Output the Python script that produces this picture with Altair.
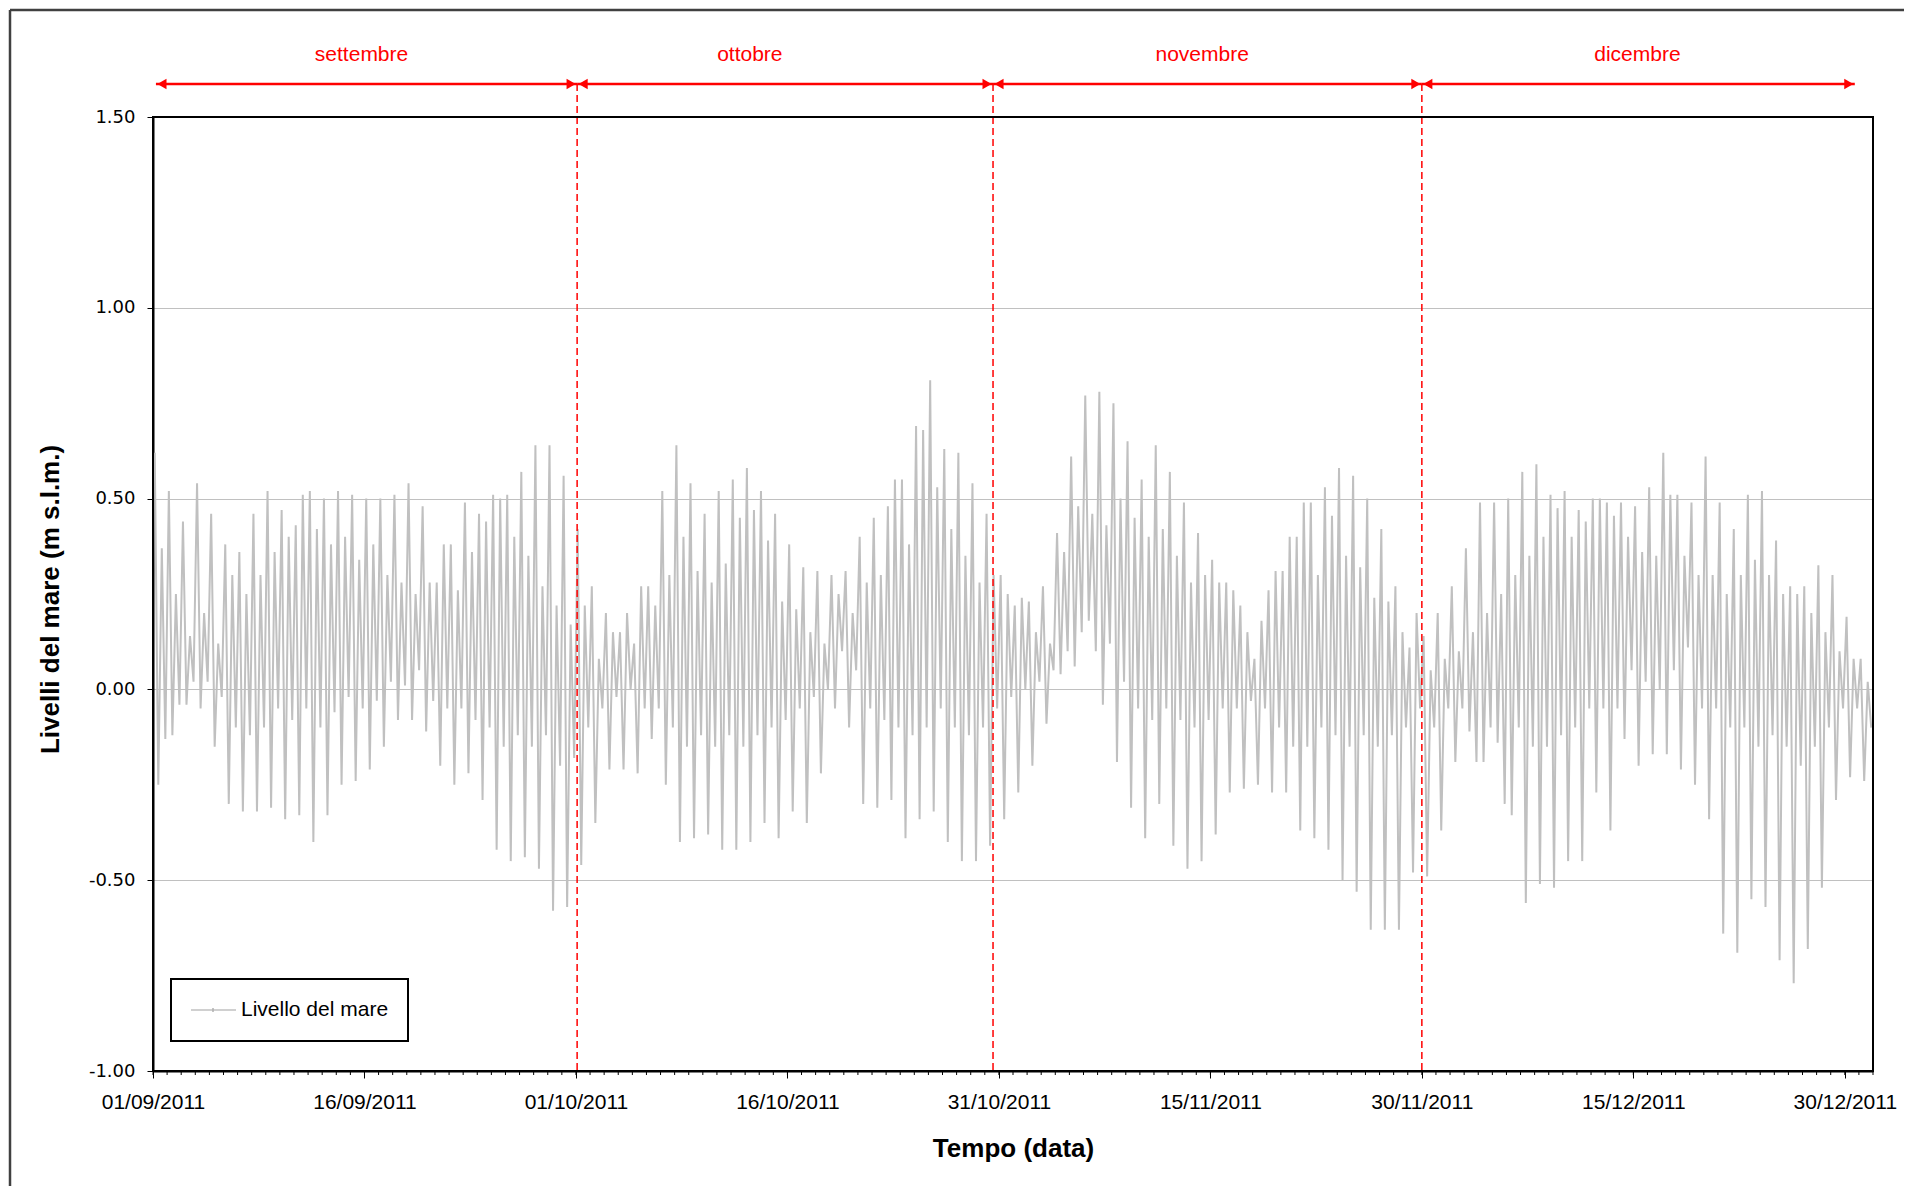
import altair as alt
import pandas as pd

# ---- data (daily tidal extremes, m s.l.m.) ----
# days 0..121 = 01/09/2011 .. 31/12/2011
hi_a = [0.62, 0.52, 0.44, 0.54, 0.46, 0.38, 0.36, 0.46, 0.52, 0.47,
        0.43, 0.52, 0.50, 0.52, 0.51, 0.50, 0.50, 0.51, 0.54, 0.48,
        0.28, 0.38, 0.49, 0.46, 0.51, 0.51, 0.57, 0.64, 0.64, 0.56,
        0.42, 0.27, 0.20, 0.15, 0.12, 0.27, 0.52, 0.64, 0.54, 0.46,
        0.52, 0.55, 0.58, 0.52, 0.46, 0.38, 0.32, 0.31, 0.30, 0.31,
        0.40, 0.45, 0.48, 0.55, 0.69, 0.81, 0.63, 0.62, 0.54, 0.46,
        0.30,
        0.22, 0.23, 0.27, 0.41, 0.61, 0.77, 0.78, 0.75, 0.65, 0.55,
        0.64, 0.57, 0.49, 0.41, 0.34, 0.28, 0.22, 0.08, 0.26, 0.31,
        0.40, 0.49, 0.53, 0.58, 0.56, 0.50, 0.42, 0.27, 0.11,
        0.14, 0.20, 0.27, 0.37, 0.49, 0.49, 0.50, 0.57, 0.59, 0.51,
        0.52, 0.47, 0.50, 0.49, 0.49, 0.48, 0.53, 0.62, 0.51, 0.49,
        0.61, 0.49, 0.42, 0.51, 0.52, 0.39, 0.27, 0.27, 0.325, 0.30,
        0.19, 0.08]
lo_a = [-0.25, -0.12, -0.04, -0.05, -0.15, -0.30, -0.32, -0.32, -0.31, -0.34,
        -0.33, -0.40, -0.33, -0.25, -0.24, -0.21, -0.15, -0.08, -0.08, -0.11,
        -0.20, -0.25, -0.22, -0.29, -0.42, -0.45, -0.44, -0.47, -0.58, -0.57,
        -0.46, -0.35, -0.21, -0.21, -0.22, -0.13, -0.25, -0.40, -0.39, -0.38,
        -0.42, -0.42, -0.40, -0.35, -0.39, -0.32, -0.35, -0.22, -0.05, -0.10,
        -0.30, -0.31, -0.29, -0.39, -0.34, -0.32, -0.40, -0.45, -0.45, -0.41,
        -0.34,
        -0.27, -0.20, -0.09, 0.04, 0.06, 0.18, -0.04, -0.19, -0.31, -0.39,
        -0.30, -0.41, -0.47, -0.45, -0.38, -0.27, -0.26, -0.25, -0.27, -0.27,
        -0.37, -0.39, -0.42, -0.50, -0.53, -0.63, -0.63, -0.63, -0.48,
        -0.49, -0.37, -0.19, -0.11, -0.19, -0.14, -0.33, -0.56, -0.51, -0.52,
        -0.45, -0.45, -0.27, -0.37, -0.13, -0.20, -0.17, -0.17, -0.21, -0.25,
        -0.34, -0.64, -0.69, -0.55, -0.57, -0.71, -0.77, -0.68, -0.52, -0.29,
        -0.23, -0.24]
hi_b = [0.37, 0.25, 0.14, 0.20, 0.12, 0.30, 0.25, 0.30, 0.36, 0.40,
        0.51, 0.42, 0.38, 0.40, 0.34, 0.38, 0.30, 0.28, 0.25, 0.28,
        0.38, 0.26, 0.36, 0.44, 0.50, 0.40, 0.35, 0.27, 0.22, 0.17,
        0.22, 0.08, 0.15, 0.20, 0.27, 0.22, 0.30, 0.40, 0.31, 0.28,
        0.33, 0.45, 0.47, 0.39, 0.23, 0.21, 0.15, 0.12, 0.25, 0.20,
        0.28, 0.30, 0.55, 0.38, 0.68, 0.53, 0.42, 0.35, 0.28, 0.30,
        0.25,
        0.24, 0.15, 0.12, 0.36, 0.48, 0.46, 0.43, 0.50, 0.45, 0.40,
        0.42, 0.35, 0.28, 0.30, 0.28, 0.26, 0.15, 0.18, 0.31, 0.40,
        0.49, 0.30, 0.455, 0.35, 0.32, 0.24, 0.23, 0.15, 0.20,
        0.05, 0.08, 0.10, 0.15, 0.20, 0.25, 0.30, 0.35, 0.40, 0.475,
        0.40, 0.44, 0.50, 0.455, 0.40, 0.36, 0.35, 0.51, 0.35, 0.30,
        0.30, 0.25, 0.30, 0.34, 0.30, 0.25, 0.25, 0.20, 0.15, 0.10,
        0.08, 0.02]
lo_b = [-0.13, -0.04, 0.02, 0.02, -0.02, -0.10, -0.12, -0.10, -0.05, -0.08,
        -0.05, -0.10, -0.06, -0.02, -0.05, -0.03, 0.02, 0.01, 0.05, -0.03,
        -0.05, -0.05, -0.08, -0.10, -0.15, -0.12, -0.15, -0.12, -0.20, -0.18,
        -0.10, -0.05, -0.02, 0.00, -0.05, -0.05, -0.10, -0.15, -0.12, -0.15,
        -0.12, -0.15, -0.12, -0.10, -0.08, -0.05, -0.02, 0.00, 0.10, 0.05,
        -0.05, -0.08, -0.10, -0.12, -0.10, -0.05, -0.10, -0.12, -0.10, -0.05,
        -0.02,
        0.00, 0.02, 0.05, 0.10, 0.15, 0.10, 0.12, 0.02, -0.05, -0.08,
        -0.05, -0.08, -0.10, -0.08, -0.05, -0.05, -0.03, -0.05, -0.10, -0.15,
        -0.15, -0.10, -0.12, -0.15, -0.12, -0.15, -0.12, -0.10, -0.05,
        -0.10, -0.05, -0.05, -0.19, -0.10, -0.30, -0.10, -0.15, -0.15, -0.12,
        -0.10, -0.05, -0.05, -0.05, 0.05, 0.02, 0.00, 0.05, 0.11, -0.05,
        -0.05, -0.10, -0.10, -0.15, -0.12, -0.15, -0.20, -0.15, -0.10, -0.05,
        -0.05, -0.10]

months = ["settembre", "ottobre", "novembre", "dicembre"]
tick_dates = ["2011-09-01", "2011-09-16", "2011-10-01", "2011-10-16", "2011-10-31",
              "2011-11-15", "2011-11-30", "2011-12-15", "2011-12-30"]
series_name = "Livello del mare"

# ---- tables ----
start = pd.Timestamp("2011-09-01")
rows = []
for i in range(len(hi_a)):
    day = start + pd.Timedelta(days=i)
    for hour, val in ((3, hi_a[i]), (9, lo_a[i]), (15, hi_b[i]), (21, lo_b[i])):
        rows.append({"t": (day + pd.Timedelta(hours=hour)).strftime("%Y-%m-%dT%H:%M:%S"),
                     "v": val})
df = pd.DataFrame(rows)

days_df = pd.DataFrame({"t": [(start + pd.Timedelta(days=i)).strftime("%Y-%m-%dT%H:%M:%S")
                              for i in range(123)]})

# separators (as drawn in the reference) and month arrows
sep_times = ["2011-10-01T02:00:00", "2011-10-30T14:00:00", "2011-11-30T00:00:00"]
arrow_start = ["2011-09-01T05:00:00"] + sep_times
arrow_end = sep_times + ["2011-12-30T17:00:00"]
label_pos = ["2011-09-15T19:00:00", "2011-10-13T08:00:00",
             "2011-11-14T10:00:00", "2011-12-15T07:00:00"]
arr = pd.DataFrame({"s": arrow_start, "e": arrow_end, "label": months, "mid": label_pos})
sep_df = pd.DataFrame({"t": sep_times})
one = pd.DataFrame({"a": [0]})
leg_df = pd.DataFrame({"label": [series_name]})

W, H = 1720, 954
FONT = "Liberation Sans"

x_scale = alt.Scale(domain=[alt.DateTime(year=2011, month=9, date=1),
                            alt.DateTime(year=2012, month=1, date=1)])
y_scale = alt.Scale(domain=[-1.0, 1.5], nice=False, zero=False)

x_axis = alt.Axis(
    values=[alt.DateTime(year=int(d[:4]), month=int(d[5:7]), date=int(d[8:10])) for d in tick_dates],
    format="%d/%m/%Y", labelFont=FONT, labelFontSize=21, labelColor="black",
    labelPadding=13, labelFlush=False, labelOverlap=False,
    tickSize=7, tickColor="black", tickWidth=1, domainColor="black", domainWidth=2,
    grid=False, title="Tempo (data)", titleFont=FONT, titleFontSize=26,
    titleFontWeight="bold", titleColor="black", titleX=W / 2, titleY=77,
    titleBaseline="middle", titleAlign="center",
)
y_axis = alt.Axis(
    values=[-1.0, -0.5, 0.0, 0.5, 1.0, 1.5],
    labelExpr="replace(format(datum.value, '.2f'), '\u2212', '-')",
    labelFont="DejaVu Sans", labelFontSize=18, labelColor="black", labelPadding=12,
    tickSize=6, tickColor="black", domainColor="black", domainWidth=2,
    grid=True, gridColor="#c0c0c0", gridWidth=1,
    title="Livelli del mare (m s.l.m.)", titleFont=FONT, titleFontSize=26,
    titleFontWeight="bold", titleColor="black", titleAngle=270,
    titleX=-103, titleY=482, titleAlign="center", titleBaseline="middle",
)

line = alt.Chart(df).mark_line(color="#c0c0c0", strokeWidth=2).encode(
    x=alt.X("t:T", scale=x_scale, axis=x_axis),
    y=alt.Y("v:Q", scale=y_scale, axis=y_axis),
)

minor = alt.Chart(days_df).mark_rule(color="black", strokeWidth=1).encode(
    x=alt.X("t:T", scale=x_scale), y=alt.value(H), y2=alt.value(H + 4))

seps = alt.Chart(sep_df).mark_rule(color="#ff0000", strokeWidth=1.5, strokeDash=[7, 4]).encode(
    x=alt.X("t:T", scale=x_scale), y=alt.value(-33), y2=alt.value(H))

arrows = alt.Chart(arr).mark_rule(color="#ff0000", strokeWidth=2.5).encode(
    x=alt.X("s:T", scale=x_scale), x2="e:T", y=alt.value(-33))
heads_l = alt.Chart(arr).mark_point(shape="triangle-left", filled=True, opacity=1,
                                    color="#ff0000", size=110, xOffset=6).encode(
    x=alt.X("s:T", scale=x_scale), y=alt.value(-33))
heads_r = alt.Chart(arr).mark_point(shape="triangle-right", filled=True, opacity=1,
                                    color="#ff0000", size=110, xOffset=-6).encode(
    x=alt.X("e:T", scale=x_scale), y=alt.value(-33))
mlabels = alt.Chart(arr).mark_text(color="#ff0000", font=FONT, fontSize=21,
                                   baseline="alphabetic", align="center").encode(
    x=alt.X("mid:T", scale=x_scale), y=alt.value(-56), text="label:N")

plot_frame = alt.Chart(one).mark_rect(filled=False, stroke="black", strokeWidth=2).encode(
    x=alt.value(0), x2=alt.value(W), y=alt.value(0), y2=alt.value(H))

outer_top = alt.Chart(one).mark_rule(color="#404040", strokeWidth=2.5).encode(
    x=alt.value(-143), x2=alt.value(1770), y=alt.value(-107))
outer_left = alt.Chart(one).mark_rule(color="#404040", strokeWidth=2.5).encode(
    x=alt.value(-143), y=alt.value(-107), y2=alt.value(1090))

leg_box = alt.Chart(one).mark_rect(fill="white", stroke="black", strokeWidth=2).encode(
    x=alt.value(18), x2=alt.value(255), y=alt.value(862), y2=alt.value(924))
leg_sym = alt.Chart(one).mark_rule(color="#c0c0c0", strokeWidth=1.5).encode(
    x=alt.value(38), x2=alt.value(83), y=alt.value(893))
leg_dot = alt.Chart(one).mark_rule(color="#b0b0b0", strokeWidth=1.5).encode(
    x=alt.value(60), y=alt.value(891), y2=alt.value(895))
leg_txt = alt.Chart(leg_df).mark_text(font=FONT, fontSize=21, color="black",
                                      align="left", baseline="middle").encode(
    x=alt.value(88), y=alt.value(893), text="label:N")

chart = alt.layer(
    line, minor, seps, arrows, heads_l, heads_r, mlabels, plot_frame,
    outer_top, outer_left, leg_box, leg_sym, leg_dot, leg_txt,
).properties(
    width=W, height=H,
    padding={"left": 145, "top": 109, "right": 31, "bottom": 115},
    autosize=alt.AutoSizeParams(type="none"),
    background="white",
).configure_view(strokeWidth=0)

chart.save("out.html", embed_options={"renderer": "svg", "actions": False})
